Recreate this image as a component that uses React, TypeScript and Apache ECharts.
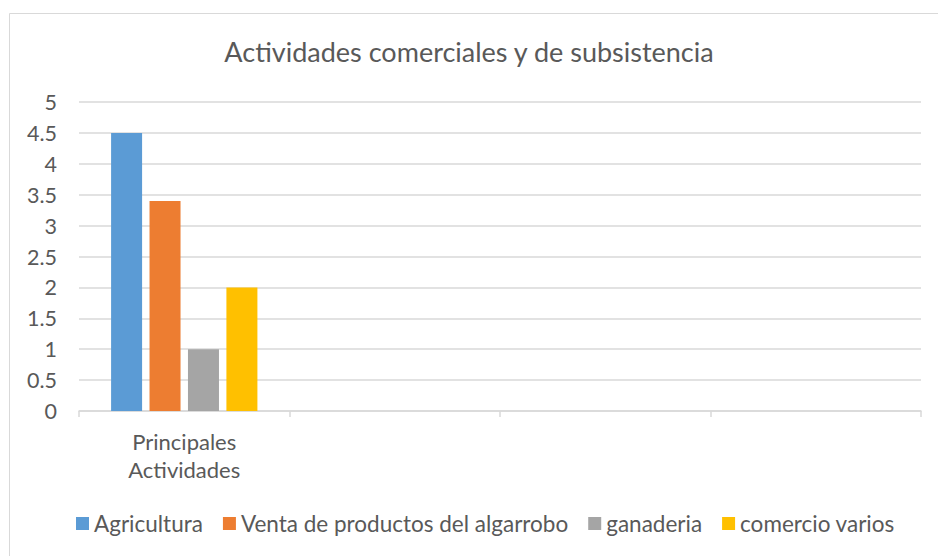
import React, { useEffect, useRef } from "react";
import * as echarts from "echarts";

const title = "Actividades comerciales y de subsistencia";
const categories = ["Principales\nActividades", "", "", ""];
const seriesNames = ["Agricultura", "Venta de productos del algarrobo", "ganaderia", "comercio varios"];
const agricultura = [4.5, null, null, null];
const venta = [3.4, null, null, null];
const ganaderia = [1, null, null, null];
const comercio = [2, null, null, null];
const colors = ["#5b9bd5", "#ed7d31", "#a5a5a5", "#ffc000"];
const yMin = 0;
const yMax = 5;
const yStep = 0.5;

const FONT = "Lato, 'Noto Sans', sans-serif";
const TEXT = "#595959";
const GRID = "#d9d9d9";

export default function App() {
  const ref = useRef<HTMLDivElement>(null);
  useEffect(() => {
    if (!ref.current) return;
    const chart = echarts.init(ref.current, undefined, { renderer: "svg" });
    const values = [agricultura, venta, ganaderia, comercio];
    chart.setOption({
      animation: false,
      textStyle: { fontFamily: FONT },
      title: {
        text: title,
        left: "center",
        top: 33,
        textStyle: { fontFamily: FONT, fontSize: 27, fontWeight: "normal", color: TEXT },
      },
      graphic: [
        {
          type: "rect",
          shape: { x: 9.5, y: 13.5, width: 940, height: 560 },
          style: { fill: "none", stroke: GRID, lineWidth: 1 },
          silent: true,
        },
      ],
      legend: {
        data: seriesNames,
        left: 71,
        top: 507,
        icon: "rect",
        itemWidth: 13,
        itemHeight: 13,
        itemGap: 20,
        textStyle: { fontFamily: FONT, fontSize: 22.5, color: TEXT },
      },
      grid: { left: 79, right: 17, top: 102, bottom: 145, containLabel: false },
      xAxis: {
        type: "category",
        data: categories,
        axisLine: { lineStyle: { color: GRID, width: 1.5 } },
        axisTick: { show: true, length: 6, lineStyle: { color: GRID, width: 1.5 } },
        axisLabel: {
          fontFamily: FONT,
          fontSize: 22,
          color: TEXT,
          lineHeight: 28,
          margin: 16,
        },
      },
      yAxis: {
        type: "value",
        min: yMin,
        max: yMax,
        interval: yStep,
        axisLine: { show: false },
        axisTick: { show: false },
        splitLine: { lineStyle: { color: GRID, width: 1.5 } },
        axisLabel: { fontFamily: FONT, fontSize: 21.5, color: TEXT, margin: 22 },
      },
      series: seriesNames.map((name, i) => ({
        name,
        type: "bar",
        data: values[i],
        barWidth: 31,
        barGap: "24%",
        itemStyle: { color: colors[i] },
      })),
    });
    return () => chart.dispose();
  }, []);
  return <div ref={ref} style={{ width: 938, height: 556, position: "absolute", left: 0, top: 0 }} />;
}
